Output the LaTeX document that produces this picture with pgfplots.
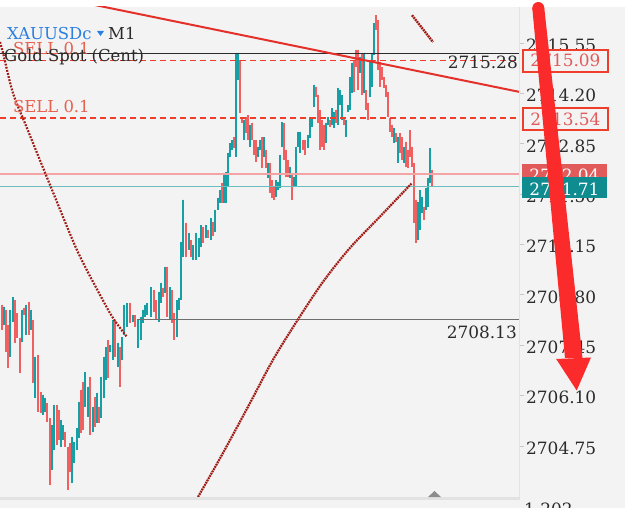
\documentclass[border=0pt]{standalone}
\usepackage{pgfplots}
\pgfplotsset{compat=1.18}
\usepackage{pgfplotstable}
\usepackage{fontspec}
\setmainfont{DejaVu Serif}
\definecolor{bgc}{HTML}{F3F3F3}
\definecolor{tealD}{HTML}{169FA4}
\definecolor{tealL}{HTML}{94D3D4}
\definecolor{redD}{HTML}{F06060}
\definecolor{redL}{HTML}{F7B4B4}
\definecolor{dashred}{HTML}{EF3E2C}
\definecolor{trend}{HTML}{E4302A}
\definecolor{maroon}{HTML}{A01A14}
\definecolor{pinkline}{HTML}{F3A3A3}
\definecolor{tealline}{HTML}{6BBDBF}
\definecolor{grayline}{HTML}{6E6E6E}
\definecolor{blk}{HTML}{2B2B2B}
\definecolor{xblue}{HTML}{2B7FE0}
\definecolor{sellred}{HTML}{E8604E}
\definecolor{boxred}{HTML}{E25B5B}
\definecolor{boxteal}{HTML}{0F8C90}
\definecolor{arrowred}{HTML}{FB2B2B}
\definecolor{sep}{HTML}{E2E2E2}

\pgfplotstableread{
x lo hi
2 2707.86 2708.53
6 2707.27 2708.40
8 2706.84 2707.99
15 2707.51 2708.66
17 2707.65 2708.31
20 2706.70 2707.65
24 2708.26 2708.45
29 2707.73 2708.61
33 2706.44 2708.13
38 2705.66 2707.19
41 2705.63 2706.20
47 2705.39 2705.90
50 2703.71 2705.50
57 2704.78 2705.85
59 2704.91 2705.72
65 2704.72 2705.13
68 2703.57 2704.72
70 2704.05 2704.83
81 2705.10 2706.25
83 2705.18 2706.47
90 2705.05 2706.60
95 2705.26 2706.06
99 2705.37 2705.80
108 2706.57 2707.59
115 2707.14 2708.13
120 2706.33 2707.40
130 2708.05 2708.58
135 2707.94 2708.26
154 2708.34 2708.93
156 2708.13 2708.66
163 2708.74 2708.99
167 2708.21 2709.55
172 2708.05 2708.93
174 2707.59 2708.31
186 2709.82 2710.73
191 2709.82 2710.27
203 2710.19 2710.62
208 2710.33 2710.54
213 2710.38 2710.75
222 2711.26 2711.80
234 2712.74 2713.03
240 2713.68 2715.10
242 2713.41 2713.57
246 2713.14 2713.57
248 2712.95 2713.62
252 2712.95 2713.41
254 2712.55 2712.95
256 2712.36 2712.95
262 2712.20 2713.03
266 2712.20 2712.69
270 2711.53 2712.34
272 2711.40 2711.88
274 2711.35 2711.69
284 2712.42 2713.41
286 2711.96 2712.69
288 2711.96 2712.42
292 2711.35 2712.07
303 2712.69 2712.95
305 2712.55 2712.95
316 2714.11 2714.38
318 2713.41 2714.16
320 2712.69 2713.76
322 2712.77 2713.49
324 2712.69 2713.36
330 2713.30 2713.49
336 2713.41 2713.76
344 2713.36 2713.57
354 2714.24 2715.10
356 2714.91 2715.37
358 2714.29 2715.37
362 2714.16 2715.29
366 2713.76 2714.29
368 2713.49 2713.95
376 2715.90 2716.30
378 2714.83 2716.17
380 2714.38 2715.05
382 2714.56 2714.91
384 2714.35 2714.64
386 2714.11 2714.43
388 2713.57 2714.24
390 2713.17 2713.54
392 2713.03 2713.36
396 2712.90 2713.14
400 2712.61 2713.14
402 2712.42 2713.03
406 2712.23 2712.90
408 2712.20 2712.69
410 2712.50 2713.22
412 2712.23 2712.77
414 2710.73 2712.34
416 2710.19 2711.35
424 2710.81 2711.16
432 2711.69 2712.15
}\bear

\pgfplotstableread{
x lo hi
4 2707.99 2708.48
10 2707.14 2708.40
13 2708.07 2708.74
22 2707.54 2708.40
26 2707.73 2708.53
31 2707.86 2708.40
35 2706.04 2707.14
43 2705.58 2706.12
45 2705.66 2706.04
52 2704.11 2705.31
54 2704.64 2705.85
61 2704.72 2705.45
63 2704.91 2705.31
72 2703.76 2704.99
74 2704.29 2704.86
77 2704.64 2705.23
79 2704.96 2705.93
85 2705.80 2706.73
88 2705.53 2706.33
93 2705.13 2705.80
97 2705.37 2706.17
101 2705.50 2706.60
104 2706.04 2707.14
106 2706.52 2707.40
110 2707.27 2707.46
113 2707.06 2708.13
118 2706.87 2707.51
122 2707.06 2707.67
124 2707.73 2708.53
127 2707.94 2708.58
133 2708.07 2708.26
138 2707.38 2708.13
141 2707.59 2708.21
143 2708.05 2708.40
145 2708.21 2708.53
147 2708.26 2708.58
151 2708.21 2709.01
159 2708.07 2708.88
161 2708.58 2709.12
165 2708.85 2709.55
170 2708.13 2709.01
177 2707.67 2708.66
179 2708.40 2708.72
181 2708.66 2710.22
183 2709.82 2711.35
189 2710.00 2710.46
193 2709.74 2710.14
196 2709.74 2710.46
199 2709.82 2710.33
201 2710.08 2710.67
206 2710.33 2710.67
211 2710.27 2710.86
215 2710.49 2711.08
218 2711.08 2711.40
220 2711.26 2711.61
224 2711.26 2712.02
226 2711.26 2712.10
228 2711.69 2712.61
230 2712.50 2712.87
232 2712.69 2712.95
236 2712.50 2715.29
238 2714.56 2715.29
244 2712.95 2713.49
250 2712.77 2713.36
258 2712.50 2712.77
260 2712.69 2712.95
264 2712.50 2713.03
268 2711.93 2712.34
276 2711.43 2711.88
278 2711.61 2711.83
280 2711.67 2712.55
282 2712.77 2713.44
290 2711.93 2712.23
294 2711.69 2711.96
296 2711.69 2712.77
298 2712.77 2713.17
300 2712.61 2713.17
308 2712.74 2713.09
310 2713.01 2713.57
312 2713.30 2713.54
314 2713.84 2714.43
326 2712.87 2713.41
328 2713.36 2713.57
332 2713.36 2713.81
334 2713.27 2713.70
338 2713.36 2714.35
340 2713.89 2714.29
342 2713.49 2714.16
346 2713.03 2713.49
348 2713.70 2713.89
350 2713.76 2714.64
352 2714.21 2715.02
360 2714.75 2715.18
364 2714.21 2715.29
370 2714.11 2715.10
372 2714.38 2715.29
374 2715.23 2716.09
394 2712.87 2713.27
398 2712.34 2713.03
404 2712.34 2712.77
418 2710.27 2711.29
420 2710.54 2711.61
422 2711.00 2711.43
426 2711.08 2711.67
428 2711.16 2711.93
430 2711.80 2712.74
}\bull

\begin{document}
\begin{tikzpicture}
\useasboundingbox (0bp,0bp) rectangle (625bp,508bp);
\begin{scope}[x=1bp,y=1bp]
\fill[white] (0,0) rectangle (625,508);
\fill[bgc] (0,0) rectangle (625,501);
\fill[sep] (0,8) rectangle (520,11);
\end{scope}
\begin{axis}[
  at={(0bp,11bp)}, anchor=south west, scale only axis,
  width=520bp, height=490bp,
  xmin=0, xmax=520, ymin=2703.38, ymax=2716.52,
  axis line style={draw=none},
  xtick=\empty,
  ytick={2704.75,2706.10,2707.45,2708.80,2710.15,2711.50,2712.85,2714.20,2715.55},
  yticklabels={2704.75,2706.10,2707.45,2708.80,2710.15,2711.50,2712.85,2714.20,2715.55},
  ytick pos=right, yticklabel pos=right,
  tick align=outside, major tick length=4bp,
  ytick style={draw=black!22, line width=0.8bp},
  yticklabel style={font=\fontsize{17}{17}\selectfont, text=blk, anchor=west, inner sep=0pt, xshift=2bp, yshift=-2bp},
  candle/.style={only marks, mark=none, mark size=0pt, mark options={draw=none, fill=none},
     error bars/.cd, y dir=minus, y explicit, error mark=none},
]
% candles
\addplot[candle, error bar style={line width=2.8bp, color=redL}]
  table[x=x, y=hi, y error minus expr=\thisrow{hi}-\thisrow{lo}] {\bear};
\addplot[candle, error bar style={line width=2.8bp, color=tealL}]
  table[x=x, y=hi, y error minus expr=\thisrow{hi}-\thisrow{lo}] {\bull};
\addplot[candle, error bar style={line width=1.2bp, color=redD}]
  table[x=x, y=hi, y error minus expr=\thisrow{hi}-\thisrow{lo}] {\bear};
\addplot[candle, error bar style={line width=1.2bp, color=tealD}]
  table[x=x, y=hi, y error minus expr=\thisrow{hi}-\thisrow{lo}] {\bull};
% horizontal levels
\addplot[blk, line width=1bp] coordinates {(0,2715.28) (520,2715.28)};
\addplot[dashred, line width=1.4bp, dash pattern=on 6bp off 4bp] coordinates {(0,2715.09) (520,2715.09)};
\addplot[dashred, line width=1.4bp, dash pattern=on 6bp off 4bp] coordinates {(0,2713.54) (520,2713.54)};
\addplot[pinkline, line width=1.5bp] coordinates {(0,2712.04) (520,2712.04)};
\addplot[tealline, line width=1.5bp] coordinates {(0,2711.71) (520,2711.71)};
\addplot[grayline, line width=1.2bp] coordinates {(137,2708.13) (520,2708.13)};
% moving-average curves
\addplot[maroon, line width=2.2bp, dash pattern=on 1.8bp off 1.4bp, smooth] coordinates {
 (0,2715.58) (3,2715.29) (13,2714.21) (27,2713.27) (50,2711.75) (77,2710.00) (100,2708.80) (113,2708.18) (127,2707.67)};
\addplot[maroon, line width=2.2bp, dash pattern=on 1.8bp off 0.8bp, smooth] coordinates {
 (198,2703.38) (223,2704.56) (250,2705.90) (273,2707.06) (297,2708.10) (323,2709.15) (350,2710.06) (380,2710.90) (412,2711.80)};
\addplot[maroon, line width=2.4bp, dash pattern=on 1.8bp off 0.8bp] coordinates {(412,2716.30) (433,2715.58)};
% trend line
\addplot[trend, line width=2bp] coordinates {(90,2716.60) (520,2714.24)};
\end{axis}
\begin{scope}[x=1bp,y=1bp]
\draw[sep, line width=1.5bp] (519.5,11) -- (519.5,501);
\fill[black!45] (428,11) -- (441,11) -- (434.5,17) -- cycle;
% chart texts
\node[anchor=base west, inner sep=0, text=sellred, font=\fontsize{16.5}{16.5}\selectfont] at (13,453) {SELL 0.1};
\node[anchor=base west, inner sep=0, text=blk, font=\fontsize{16.5}{16.5}\selectfont] at (4,446) {Gold Spot (Cent)};
\node[anchor=base west, inner sep=0, text=sellred, font=\fontsize{16.5}{16.5}\selectfont] at (13,395) {SELL 0.1};
\node[anchor=base west, inner sep=0, text=xblue, font=\fontsize{16.5}{16.5}\selectfont] at (7,468) {XAUUSDc};
\fill[xblue] (97,477) -- (104,477) -- (100.5,472) -- cycle;
\node[anchor=base west, inner sep=0, text=blk, font=\fontsize{16.5}{16.5}\selectfont] at (108,468) {M1};
\node[anchor=base east, inner sep=0, text=blk, font=\fontsize{17}{17}\selectfont] at (518,439) {2715.28};
\node[anchor=base east, inner sep=0, text=blk, font=\fontsize{17}{17}\selectfont] at (517,170) {2708.13};
\node[anchor=base west, inner sep=0, text=blk, font=\fontsize{17}{17}\selectfont] at (524,-7) {1.202};
% price boxes
\draw[dashred, line width=1.2bp, fill=bgc] (523,436) rectangle (608,458);
\node[anchor=base, inner sep=0, text=boxred, font=\fontsize{17}{17}\selectfont] at (565.5,441) {2715.09};
\draw[dashred, line width=1.2bp, fill=bgc] (523,378) rectangle (608,400);
\node[anchor=base, inner sep=0, text=boxred, font=\fontsize{17}{17}\selectfont] at (565.5,383) {2713.54};
\fill[boxred] (522,328) rectangle (607,344);
\node[anchor=base, inner sep=0, text=white, font=\fontsize{17}{17}\selectfont] at (564.5,327) {2712.04};
\fill[boxteal] (522,310) rectangle (607,331);
\node[anchor=base, inner sep=0, text=white, font=\fontsize{17}{17}\selectfont] at (564.5,313) {2711.71};
% big arrow
\fill[arrowred] (532.3,500) -- (544.3,500) -- (582.5,150) -- (565,150) -- cycle;
\fill[arrowred] (538.3,500) circle (6);
\fill[arrowred] (556.2,149) -- (591,150.5) -- (576.7,117.5) -- cycle;
\end{scope}
\end{tikzpicture}
\end{document}
